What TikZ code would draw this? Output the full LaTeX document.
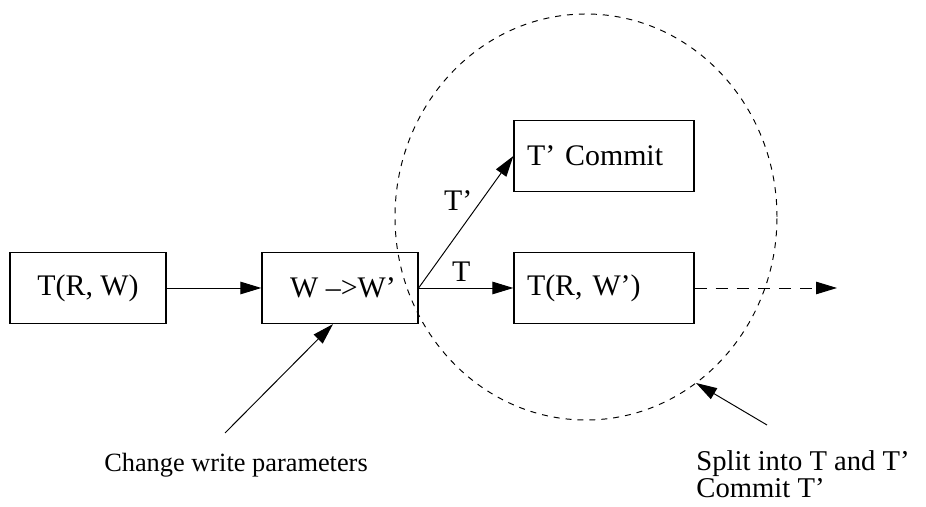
\documentclass[tikz,border=0pt]{standalone}
\usepackage{fontspec}
\setmainfont{Liberation Serif}
\usetikzlibrary{arrows.meta}
\tikzset{
	block/.style     = {draw, line width=0.7pt, rectangle, minimum height = 1.42cm,
		minimum width = 3.12cm, inner sep = 0pt},
	wideblock/.style = {block, minimum width = 3.6cm, text width = 3.08cm,
		align = left},
	note/.style      = {font=\fontsize{15}{15}\selectfont, inner sep = 0pt},
	ring/.style      = {dash pattern = on 3.4pt off 3.4pt}, % split region
	leaving/.style   = {dash pattern = on 7pt off 5pt}
}

\begin{document}
\begin{tikzpicture}[line width=0.55pt, >={Triangle[length=0.42cm,width=0.25cm]},
	font=\fontsize{17}{20}\selectfont]
	\useasboundingbox (0,0) rectangle (18.52,10.14);
	\draw
	node at (1.76,4.38)  [block] (tw) {T(R, W)}
	node at (6.80,4.38)  [block] (ww) {\hspace{0.12cm}W –>W'}
	node at (12.08,7.02) [wideblock] (tc) {T' Commit}
	node at (12.08,4.38) [wideblock] (tn) {T(R, W')}
	node at (4.72,0.84)  [note] (chg) {Change write parameters}
	node at (13.92,0.66) [note,font=\fontsize{16.3}{15.2}\selectfont,
		anchor=west,align=left] (spl) {Split into T and T'\\Commit T'}
	;
	\draw[ring] (11.72,5.80) ellipse [x radius=3.82, y radius=4.06];
	\coordinate (rim) at (13.92,2.48);
	\coordinate (chgtail) at (4.50,1.48);
	\coordinate (spltail) at (15.34,1.64);
	\coordinate (out) at (16.74,4.38);
	\draw[->](tw)--(ww);
	\draw[->](ww.east)--node[above,pos=0.45] {T} (tn);
	\draw[->](ww.east)--node[above left,pos=0.58,inner sep=0.5pt] {T'} (tc.west);
	\draw[->,leaving](tn)--(out);
	\draw[->](chgtail)--(ww.south west -| 6.66,0);
	\draw[->](spltail)--(rim);
\end{tikzpicture}
\end{document}
